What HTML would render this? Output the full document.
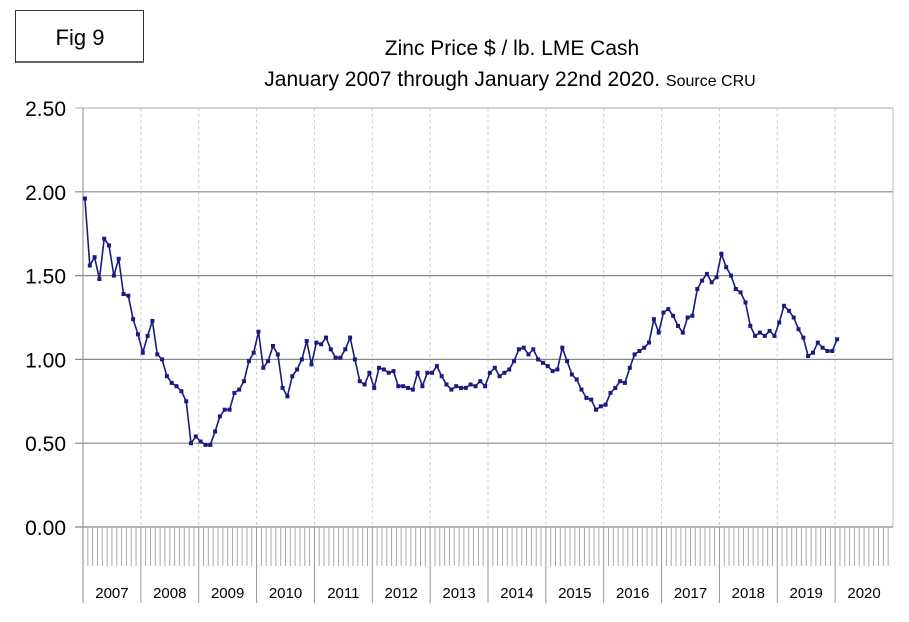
<!DOCTYPE html>
<html><head><meta charset="utf-8"><style>
body{margin:0;background:#fff;}
svg{display:block;font-family:"Liberation Sans",Arial,sans-serif;}
</style></head><body>
<svg id="s" width="909" height="622" xmlns="http://www.w3.org/2000/svg">
<rect x="0" y="0" width="909" height="622" fill="#fff"/>
<rect x="15.5" y="10.5" width="128" height="52" fill="#fff" stroke="#333" stroke-width="1"/>
<rect x="16" y="61" width="128" height="2" fill="#666"/>
<text x="80" y="45" font-size="22" text-anchor="middle">Fig 9</text>
<text x="512" y="55" font-size="21" text-anchor="middle">Zinc Price $ / lb. LME Cash</text>
<text x="510" y="86" font-size="21" text-anchor="middle">January 2007 through January 22nd 2020. <tspan font-size="16">Source CRU</tspan></text>
<g id="g"></g>
</svg>
<script>
var g=document.getElementById('g'),h='';
var X0=83,X1=893,Y0=527,S=167.6,YW=(X1-X0)/14;
for(var y=0;y<14;y++){var x=X0+YW*(y+1);if(y<13)h+='<line x1="'+x+'" y1="108" x2="'+x+'" y2="527" stroke="#ccc" stroke-dasharray="3,3"/>';}
for(var i=0;i<=5;i++){var yy=Y0-i*0.5*S;h+='<line x1="'+(X0-8)+'" y1="'+yy+'" x2="'+X1+'" y2="'+yy+'" stroke="'+(i==5?'#bbb':'#888')+'" stroke-width="1.2"/>';
h+='<text x="66" y="'+(yy+8)+'" font-size="21" text-anchor="end">'+(i*0.5).toFixed(2)+'</text>';}
h+='<line x1="'+X0+'" y1="108" x2="'+X0+'" y2="603" stroke="#999" stroke-width="1.2"/>';
h+='<line x1="'+X1+'" y1="108" x2="'+X1+'" y2="527" stroke="#bbb"/>';
var mw=YW/12;
for(var m=1;m<168;m++){var x=X0+m*mw;if(m%12==0)h+='<line x1="'+x+'" y1="527" x2="'+x+'" y2="603" stroke="#999"/>';else h+='<line x1="'+x+'" y1="527" x2="'+x+'" y2="566" stroke="#aaa"/>';}
for(var y=0;y<14;y++)h+='<text x="'+(X0+YW*(y+0.5))+'" y="598" font-size="15" text-anchor="middle">'+(2007+y)+'</text>';
var d=[1.96,1.56,1.61,1.48,1.72,1.68,1.50,1.60,1.39,1.38,1.24,1.15,
1.04,1.14,1.23,1.03,1.00,0.90,0.86,0.84,0.81,0.75,0.50,0.54,
0.51,0.49,0.49,0.57,0.66,0.70,0.70,0.80,0.82,0.87,0.99,1.04,
1.165,0.95,0.99,1.08,1.03,0.83,0.78,0.90,0.94,1.00,1.11,0.97,
1.10,1.09,1.13,1.06,1.01,1.01,1.06,1.13,1.00,0.87,0.85,0.92,
0.83,0.95,0.94,0.92,0.93,0.84,0.84,0.83,0.82,0.92,0.84,0.92,
0.92,0.96,0.90,0.85,0.82,0.84,0.83,0.83,0.85,0.84,0.87,0.84,
0.92,0.95,0.90,0.92,0.94,0.99,1.06,1.07,1.03,1.06,1.00,0.98,
0.96,0.93,0.94,1.07,0.99,0.91,0.88,0.82,0.77,0.76,0.70,0.72,
0.73,0.80,0.83,0.87,0.86,0.95,1.03,1.05,1.07,1.10,1.24,1.16,
1.28,1.30,1.26,1.20,1.16,1.25,1.26,1.42,1.47,1.51,1.46,1.49,
1.63,1.55,1.50,1.42,1.40,1.34,1.20,1.14,1.16,1.14,1.17,1.14,
1.22,1.32,1.29,1.25,1.18,1.13,1.02,1.04,1.10,1.07,1.05,1.05,1.12];
var p='',r='';
for(var i=0;i<d.length;i++){var x=X0+(i+0.4)*mw,y=Y0-d[i]*S;p+=(i?'L':'M')+x.toFixed(1)+' '+y.toFixed(1);r+='<rect x="'+(x-2).toFixed(1)+'" y="'+(y-2).toFixed(1)+'" width="4" height="4" fill="#1a1a80"/>';}
h+='<path d="'+p+'" fill="none" stroke="#1a1a80" stroke-width="1.6"/>'+r;
g.innerHTML=h;
</script>
</body></html>
